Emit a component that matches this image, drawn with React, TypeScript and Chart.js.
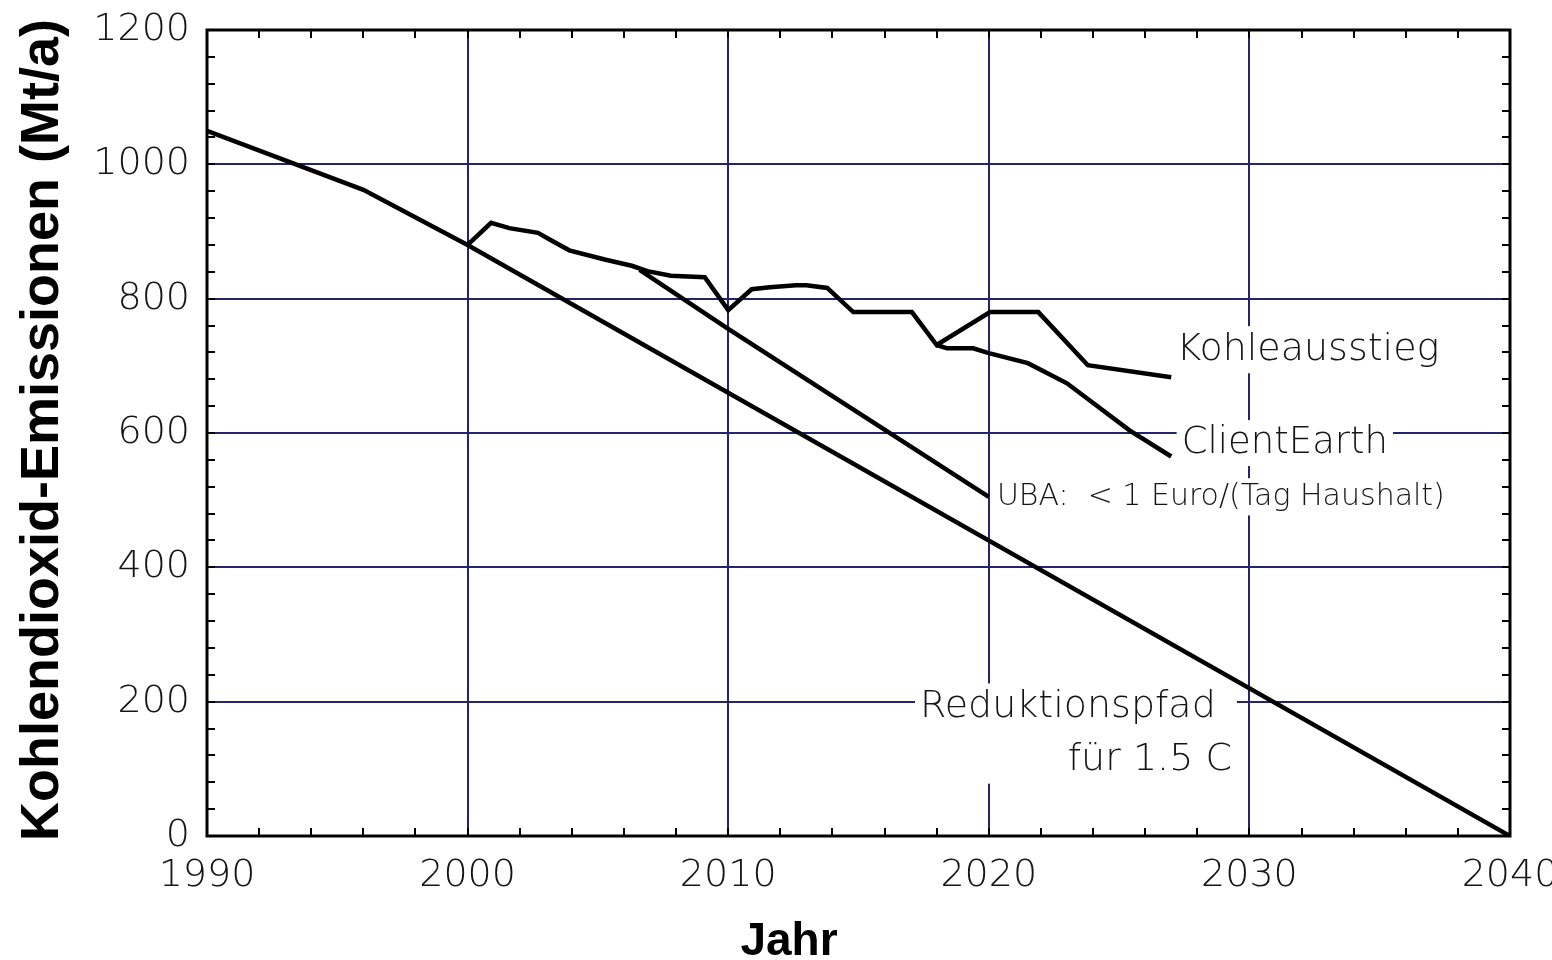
import React, { useEffect, useRef } from 'react';
import { Chart, registerables } from 'chart.js';
Chart.register(...registerables);

const reductionYears = [1990, 1996, 2000, 2040];
const reductionValues = [1050, 962, 880, 0];

const kohleYears = [2000, 2000.9, 2001.6, 2002.7, 2003.2, 2003.9, 2005.3, 2006.3, 2006.9, 2007.8, 2009.1, 2010, 2010.9, 2011.6, 2012.6, 2013, 2013.8, 2014.8, 2017.05, 2018, 2020.05, 2021.9, 2023.8, 2027];
const kohleValues = [880, 913, 905, 898, 887, 872, 858, 849, 841, 834, 832, 783, 814, 817, 820, 820, 816, 780, 780, 731, 780, 780, 701, 683];

const clientEarthYears = [2018, 2018.4, 2019.4, 2020, 2021.5, 2023, 2025.4, 2027];
const clientEarthValues = [731, 726, 726, 719, 704, 674, 604, 565];

const ubaYears = [2006.6, 2010, 2020];
const ubaValues = [843, 755, 505];

const xTickStep = 10;
const yTickStep = 200;
const yAxisTitle = 'Kohlendioxid-Emissionen (Mt/a)';
const xAxisTitle = 'Jahr';

const labelKohle = 'Kohleausstieg';
const labelClient = 'ClientEarth';
const labelUba = 'UBA:  < 1 Euro/(Tag Haushalt)';
const labelReduktion1 = 'Reduktionspfad';
const labelReduktion2 = 'für 1.5 C';

const GRID = '#23236e';
const TEXT = '#151515';
const LABEL_FONT = '"DejaVu Sans", sans-serif';
const LABEL_WEIGHT = '200';

type LabelLine = { text: string; x: number; y: number; align: 'left' | 'right'; size: number };
const labelGroups: LabelLine[][] = [
  [{ text: labelKohle, x: 2027.2, y: 724, align: 'left', size: 38 }],
  [{ text: labelClient, x: 2027.4, y: 585, align: 'left', size: 37 }],
  [{ text: labelUba, x: 2020.31, y: 505, align: 'left', size: 30 }],
  [
    { text: labelReduktion1, x: 2017.36, y: 192, align: 'left', size: 38 },
    { text: labelReduktion2, x: 2029.33, y: 113, align: 'right', size: 38 },
  ],
];

const toXY = (xs: number[], ys: number[]) => xs.map((x, i) => ({ x, y: ys[i] }));

const decorPlugin = {
  id: 'decor',
  beforeDatasetsDraw(chart: any) {
    const { ctx, scales } = chart;
    const xs = scales.x, ys = scales.y;
    ctx.save();
    for (const group of labelGroups) {
      let l = Infinity, r = -Infinity, t = Infinity, b = -Infinity;
      const placed = group.map((ln) => {
        ctx.font = `${LABEL_WEIGHT} ${ln.size}px ${LABEL_FONT}`;
        const w = ctx.measureText(ln.text).width;
        const px = xs.getPixelForValue(ln.x);
        const py = ys.getPixelForValue(ln.y);
        const left = ln.align === 'left' ? px : px - w;
        l = Math.min(l, left - 5);
        r = Math.max(r, left + w + 5);
        t = Math.min(t, py - ln.size * 0.62);
        b = Math.max(b, py + ln.size * 0.62);
        return { ...ln, left, py };
      });
      ctx.fillStyle = '#ffffff';
      ctx.fillRect(l, t, r - l, b - t);
      for (const p of placed) {
        ctx.font = `${LABEL_WEIGHT} ${p.size}px ${LABEL_FONT}`;
        ctx.fillStyle = TEXT;
        ctx.textAlign = 'left';
        ctx.textBaseline = 'middle';
        ctx.fillText(p.text, p.left, p.py);
      }
    }
    ctx.restore();
  },
  afterDraw(chart: any) {
    const { ctx, chartArea, scales } = chart;
    const xs = scales.x, ys = scales.y;
    const { left, right, top, bottom } = chartArea;
    ctx.save();
    ctx.strokeStyle = '#000';
    ctx.lineWidth = 2;
    const tl = 8;
    ctx.beginPath();
    for (let v = 1992; v < 2040; v += 2) {
      const px = Math.round(xs.getPixelForValue(v));
      ctx.moveTo(px, bottom); ctx.lineTo(px, bottom - tl);
      ctx.moveTo(px, top); ctx.lineTo(px, top + tl);
    }
    for (let v = 40; v < 1200; v += 40) {
      const py = Math.round(ys.getPixelForValue(v));
      ctx.moveTo(left, py); ctx.lineTo(left + tl, py);
      ctx.moveTo(right, py); ctx.lineTo(right - tl, py);
    }
    ctx.stroke();
    ctx.lineWidth = 3;
    ctx.strokeRect(left, top, right - left, bottom - top);

    ctx.fillStyle = '#000';
    let size = 52;
    ctx.font = `bold ${size}px "Liberation Sans", Arial, sans-serif`;
    const w = ctx.measureText(yAxisTitle).width;
    size = size * 822 / w;
    ctx.font = `bold ${size}px "Liberation Sans", Arial, sans-serif`;
    ctx.translate(58, 430);
    ctx.rotate(-Math.PI / 2);
    ctx.textAlign = 'center';
    ctx.textBaseline = 'alphabetic';
    ctx.fillText(yAxisTitle, 0, 0);
    ctx.setTransform(1, 0, 0, 1, 0, 0);

    ctx.font = `bold 46px "Liberation Sans", Arial, sans-serif`;
    ctx.textAlign = 'center';
    ctx.textBaseline = 'alphabetic';
    ctx.fillText(xAxisTitle, 789, 955);
    ctx.restore();
  },
};

export default function App() {
  const ref = useRef<HTMLCanvasElement>(null);
  useEffect(() => {
    if (!ref.current) return;
    const lineStyle = {
      borderColor: '#000',
      borderWidth: 4.5,
      pointRadius: 0,
      tension: 0,
      fill: false,
    };
    const chart = new Chart(ref.current, {
      type: 'line',
      data: {
        datasets: [
          { label: 'Reduktionspfad', data: toXY(reductionYears, reductionValues), ...lineStyle },
          { label: 'Kohleausstieg', data: toXY(kohleYears, kohleValues), ...lineStyle },
          { label: 'ClientEarth', data: toXY(clientEarthYears, clientEarthValues), ...lineStyle },
          { label: 'UBA', data: toXY(ubaYears, ubaValues), ...lineStyle },
        ],
      },
      options: {
        responsive: false,
        animation: false,
        layout: { padding: { top: 30, right: 42, left: 0, bottom: 0 } },
        plugins: { legend: { display: false }, tooltip: { enabled: false } },
        scales: {
          x: {
            type: 'linear',
            min: 1990,
            max: 2040,
            ticks: {
              stepSize: xTickStep,
              padding: 17,
              color: TEXT,
              font: { family: 'DejaVu Sans', size: 38, weight: LABEL_WEIGHT as any },
              callback: (v: any) => String(v),
              maxRotation: 0,
            },
            grid: { color: GRID, lineWidth: 2, drawTicks: false },
            border: { display: false },
            afterFit: (s: any) => { s.height = 124; s.paddingLeft = 0; s.paddingRight = 0; },
          },
          y: {
            type: 'linear',
            min: 0,
            max: 1200,
            ticks: {
              stepSize: yTickStep,
              padding: 17,
              color: TEXT,
              font: { family: 'DejaVu Sans', size: 38, weight: LABEL_WEIGHT as any },
              callback: (v: any) => String(v),
            },
            grid: { color: GRID, lineWidth: 2, drawTicks: false },
            border: { display: false },
            afterFit: (s: any) => { s.width = 207; s.paddingTop = 0; s.paddingBottom = 0; },
          },
        },
      },
      plugins: [decorPlugin],
    });
    return () => chart.destroy();
  }, []);
  return (
    <div style={{ position: 'absolute', left: 0, top: 0, width: 1552, height: 960, background: '#fff' }}>
      <canvas ref={ref} width={1552} height={960} />
    </div>
  );
}
